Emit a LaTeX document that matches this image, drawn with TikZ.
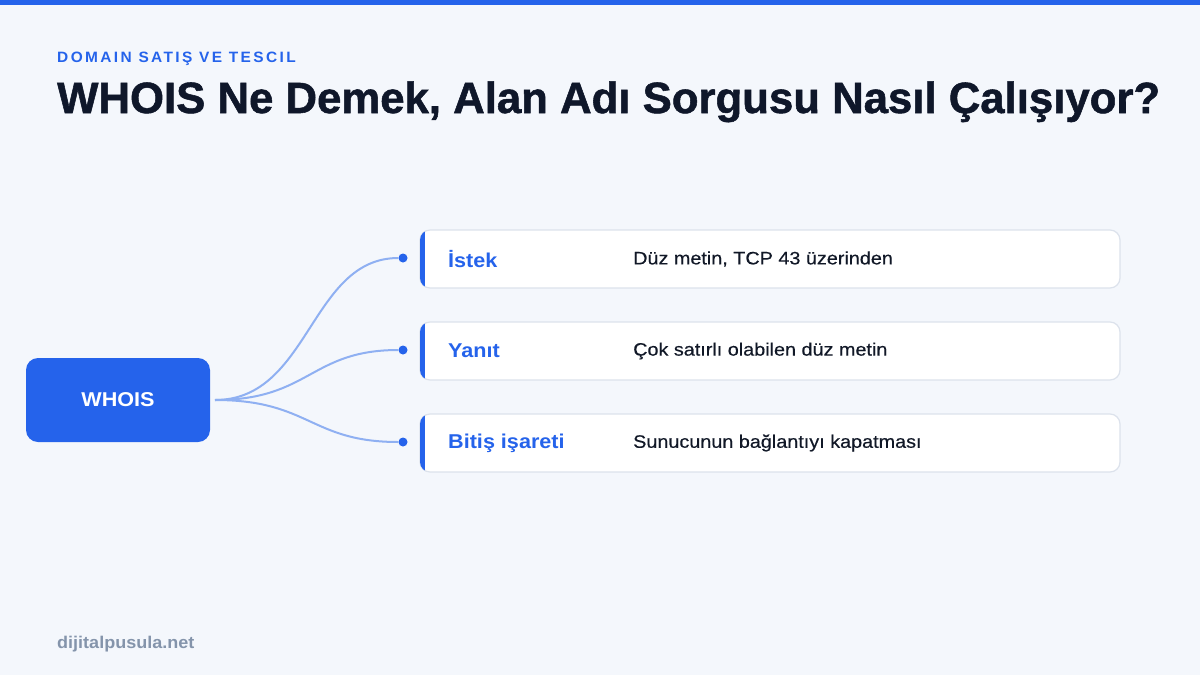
\documentclass[tikz,border=0pt]{standalone}
\usepackage{fontspec}
\setmainfont{Liberation Sans}
\newfontfamily\spacedfont{Liberation Sans}[LetterSpace=16,FakeStretch=1.03]
\newfontfamily\titlefont{Liberation Sans}[BoldFeatures={FakeBold=1.2}]
\newfontfamily\descfont{Liberation Sans}[FakeStretch=1.1,FakeBold=0.35]
\newfontfamily\lblfont{Liberation Sans}[FakeStretch=1.08]
\newfontfamily\footfont{Liberation Sans}[FakeStretch=1.06]
\definecolor{bg}{HTML}{F4F7FC}
\definecolor{brand}{HTML}{2563EB}
\definecolor{ink}{HTML}{0F172A}
\definecolor{txt}{HTML}{111827}
\definecolor{cardline}{HTML}{DCE2EC}
\definecolor{curve}{HTML}{8FB0F2}
\definecolor{foot}{HTML}{8494AB}
\tikzset{
  cardbox/.style={draw=cardline, line width=1.2pt, fill=white, rounded corners=10pt},
  lbl/.style={anchor=west, text=brand, font=\lblfont\fontsize{20}{24}\selectfont\bfseries, inner sep=0pt},
  desc/.style={anchor=west, text=txt, font=\descfont\fontsize{18}{21}\selectfont, inner sep=0pt},
  link/.style={draw=curve, line width=2pt},
  dotmark/.style={circle, fill=brand, minimum size=9pt, inner sep=0pt},
}
\begin{document}
\begin{tikzpicture}[x=1pt,y=-1pt]
\useasboundingbox (0,0) rectangle (1200,675);
\fill[bg] (0,0) rectangle (1200,675);
\fill[brand] (0,0) rectangle (1200,5);
% headings
\node[anchor=base west, inner sep=0pt, text=brand, font=\spacedfont\fontsize{15}{18}\selectfont\bfseries] (sub) at (57,62) {DOMAIN SATIŞ VE TESCIL};
\node[anchor=base west, inner sep=0pt, text=ink] (title) at (57,113) {\resizebox{1103pt}{!}{\titlefont\fontsize{50}{56}\selectfont\bfseries WHOIS Ne Demek, Alan Adı Sorgusu Nasıl Çalışıyor?}};
% center node
\node[fill=brand, rounded corners=12pt, minimum width=184pt, minimum height=84pt, text=white, font=\lblfont\fontsize{20}{24}\selectfont\bfseries] (whois) at (118,400) {WHOIS};
\coordinate (src) at (215,400);
% cards
\foreach \i/\y/\l/\d in {1/259/İstek/{Düz metin, TCP 43 üzerinden},2/351/Yanıt/{Çok satırlı olabilen düz metin},3/443/Bitiş işareti/{Sunucunun bağlantıyı kapatması}}{
  \path[cardbox] (420,\y-29) rectangle (1120,\y+29);
  \begin{scope}
    \clip[rounded corners=10pt] (420,\y-29) rectangle (1120,\y+29);
    \fill[brand] (419,\y-30) rectangle (425,\y+30);
  \end{scope}
  \node[lbl] (l\i) at (448,\y) {\l};
  \node[desc] (d\i) at (633,\y) {\d};
  \node[dotmark] (p\i) at (403,\y-1) {};
}
\draw[link] (src) .. controls (310,400) and (310,258) .. (p1.west);
\draw[link] (src) .. controls (310,400) and (310,350) .. (p2.west);
\draw[link] (src) .. controls (310,400) and (310,442) .. (p3.west);
\node[anchor=base west, inner sep=0pt, text=foot, font=\footfont\fontsize{17}{20}\selectfont\bfseries] (footer) at (57,648) {dijitalpusula.net};
\end{tikzpicture}
\end{document}
